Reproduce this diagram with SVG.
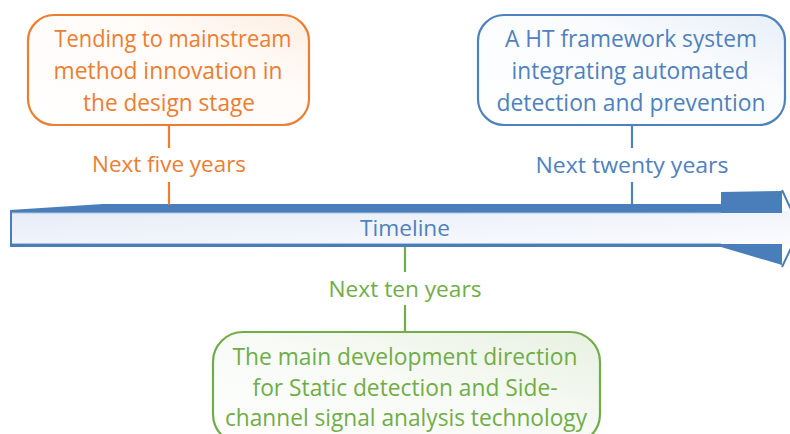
<svg xmlns="http://www.w3.org/2000/svg" width="790" height="434" viewBox="0 0 790 434">
  <defs>
    <linearGradient id="gOrange" x1="0" y1="1" x2="1" y2="0">
      <stop offset="0" stop-color="#ffffff"/>
      <stop offset="0.65" stop-color="#fffbf8"/>
      <stop offset="1" stop-color="#fdeee2"/>
    </linearGradient>
    <linearGradient id="gBlue" x1="0" y1="1" x2="1" y2="0">
      <stop offset="0" stop-color="#ffffff"/>
      <stop offset="0.65" stop-color="#f9fbfd"/>
      <stop offset="1" stop-color="#e8eff8"/>
    </linearGradient>
    <linearGradient id="gGreen" x1="0" y1="1" x2="1" y2="0">
      <stop offset="0" stop-color="#ffffff"/>
      <stop offset="0.55" stop-color="#f7faf5"/>
      <stop offset="1" stop-color="#e8f1e1"/>
    </linearGradient>
    <linearGradient id="gBar" x1="0" y1="0" x2="1" y2="1">
      <stop offset="0" stop-color="#e6ecf7"/>
      <stop offset="1" stop-color="#fbfcfe"/>
    </linearGradient>
  </defs>
  <style>
    .box { stroke-width: 2.2; }
    .txt { font-family: "Open Sans", "Liberation Sans", sans-serif; font-size: 23.5px; text-anchor: middle; }
    .lbl { font-family: "Open Sans", "Liberation Sans", sans-serif; font-size: 21px; text-anchor: middle; }
    .orange { fill: #ed7d31; }
    .blue { fill: #4f81bd; }
    .green { fill: #70ad47; }
  </style>

  <rect width="790" height="434" fill="#ffffff"/>

  <!-- timeline arrow -->
  <g id="timeline">
    <rect x="12" y="211" width="778" height="34" fill="url(#gBar)"/>
    <!-- top edge with perspective slant and raised head block -->
    <polygon points="10,210 103,204 721,204 721,192 782,191 782,213 12,213 12,247 10,247" fill="#4a7ebb"/>
    <line x1="12" y1="213" x2="721" y2="213" stroke="#a9c3e4" stroke-width="1"/>
    <!-- bottom edge and lower head wedge -->
    <polygon points="10,244 782,244 782,265 721,247 10,247" fill="#4a7ebb"/>
    <line x1="12" y1="243.5" x2="721" y2="243.5" stroke="#a9c3e4" stroke-width="1"/>
    <!-- arrow tip outline -->
    <polyline points="782,190 800,229 782,267" fill="none" stroke="#4a7ebb" stroke-width="2"/>
    <text class="lbl blue" x="405" y="236" textLength="90" lengthAdjust="spacingAndGlyphs">Timeline</text>
  </g>

  <!-- connectors -->
  <g id="connectors" fill="none" stroke-width="2.2">
    <line x1="169" y1="125" x2="169" y2="148" stroke="#ed7d31"/>
    <line x1="169" y1="182" x2="169" y2="205" stroke="#ed7d31"/>
    <line x1="632" y1="125" x2="632" y2="148" stroke="#4f81bd"/>
    <line x1="632" y1="182" x2="632" y2="205" stroke="#4f81bd"/>
    <line x1="405" y1="247" x2="405" y2="272" stroke="#70ad47"/>
    <line x1="405" y1="305" x2="405" y2="332" stroke="#70ad47"/>
  </g>

  <!-- period labels -->
  <g id="labels">
    <text class="lbl orange" x="169" y="172" textLength="154" lengthAdjust="spacingAndGlyphs">Next five years</text>
    <text class="lbl blue" x="632" y="173" textLength="193" lengthAdjust="spacingAndGlyphs">Next twenty years</text>
    <text class="lbl green" x="405" y="297" textLength="153" lengthAdjust="spacingAndGlyphs">Next ten years</text>
  </g>

  <!-- five-year goal -->
  <g id="node-five">
    <rect class="box" x="28" y="15" width="281" height="110" rx="26" fill="url(#gOrange)" stroke="#ed7d31"/>
    <text class="txt orange" x="173" y="47" textLength="237" lengthAdjust="spacingAndGlyphs">Tending to mainstream</text>
    <text class="txt orange" x="168" y="79" textLength="229" lengthAdjust="spacingAndGlyphs">method innovation in</text>
    <text class="txt orange" x="169" y="111" textLength="172" lengthAdjust="spacingAndGlyphs">the design stage</text>
  </g>

  <!-- twenty-year goal -->
  <g id="node-twenty">
    <rect class="box" x="478" y="15" width="307" height="110" rx="26" fill="url(#gBlue)" stroke="#4f81bd"/>
    <text class="txt blue" x="631" y="47" textLength="252" lengthAdjust="spacingAndGlyphs">A HT framework system</text>
    <text class="txt blue" x="630" y="79" textLength="237" lengthAdjust="spacingAndGlyphs">integrating automated</text>
    <text class="txt blue" x="631" y="111" textLength="269" lengthAdjust="spacingAndGlyphs">detection and prevention</text>
  </g>

  <!-- ten-year goal -->
  <g id="node-ten">
    <rect class="box" x="213" y="332" width="387" height="112" rx="30" fill="url(#gGreen)" stroke="#70ad47"/>
    <text class="txt green" x="405" y="365" textLength="345" lengthAdjust="spacingAndGlyphs">The main development direction</text>
    <text class="txt green" x="405" y="396" textLength="305" lengthAdjust="spacingAndGlyphs">for Static detection and Side-</text>
    <text class="txt green" x="406" y="426" textLength="362" lengthAdjust="spacingAndGlyphs">channel signal analysis technology</text>
  </g>
</svg>
